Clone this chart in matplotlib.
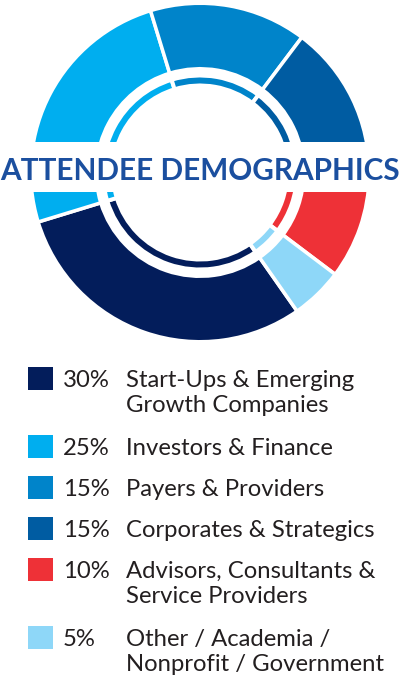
import matplotlib
matplotlib.use("Agg")
import matplotlib.pyplot as plt
from matplotlib.patches import Rectangle

# ---- data (legend order) ----
categories = [
    "Start-Ups & Emerging\nGrowth Companies",
    "Investors & Finance",
    "Payers & Providers",
    "Corporates & Strategics",
    "Advisors, Consultants &\nService Providers",
    "Other / Academia /\nNonprofit / Government",
]
shares = [30, 25, 15, 15, 10, 5]
pct_labels = ["30%", "25%", "15%", "15%", "10%", "5%"]
colors = ["#031D5B", "#00AEEF", "#0084CA", "#005CA2", "#EE3137", "#8ED7F8"]
title = "ATTENDEE DEMOGRAPHICS"

W, H = 400, 676
PX = 72 / 100  # points per pixel
fig = plt.figure(figsize=(W / 100, H / 100), dpi=100)
ax = fig.add_axes([0, 0, 1, 1])

cx, cy = 200, H - 172.5

# outer thick ring (edge stroke compensates for white gaps)
g_out = 3.5
ax.pie(shares, colors=colors, startangle=-55, counterclock=False,
       radius=167.5 + g_out / 2, center=(cx, cy),
       wedgeprops=dict(width=62 + g_out, edgecolor="white",
                       linewidth=g_out * PX))
# inner thin ring
g_in = 4
ax.pie(shares, colors=colors, startangle=-55, counterclock=False,
       radius=95 + g_in / 2, center=(cx, cy),
       wedgeprops=dict(width=6 + g_in, edgecolor="white",
                       linewidth=g_in * PX))

# title band
ax.add_patch(Rectangle((0, H - 192), W, 50, facecolor="white",
                       edgecolor="none", zorder=5))
ax.text(cx, H - 169, title, ha="center", va="center_baseline",
        fontsize=21.4, fontfamily="Lato", fontweight="bold",
        color="#1B4F9F", zorder=6)

# legend
text_color = "#231F20"
fs = 17.2
baseline = 387.3
line_step = 24.5
row_gap = 41
for pct, lab, col in zip(pct_labels, categories, colors):
    ax.add_patch(Rectangle((28, H - (baseline + 2.8)), 24.5, 23.4,
                           facecolor=col, edgecolor="none", zorder=3))
    ax.text(63, H - baseline, pct, ha="left", va="baseline",
            fontsize=fs, fontfamily="Lato", color=text_color)
    lines = lab.split("\n")
    for i, ln in enumerate(lines):
        ax.text(126, H - (baseline + i * line_step), ln, ha="left",
                va="baseline", fontsize=fs, fontfamily="Lato",
                color=text_color)
    baseline += row_gap + (len(lines) - 1) * 27

ax.set_xlim(0, W)
ax.set_ylim(0, H)
ax.set_aspect("equal")
ax.axis("off")
fig.savefig("out.png", dpi=100, facecolor="white")
